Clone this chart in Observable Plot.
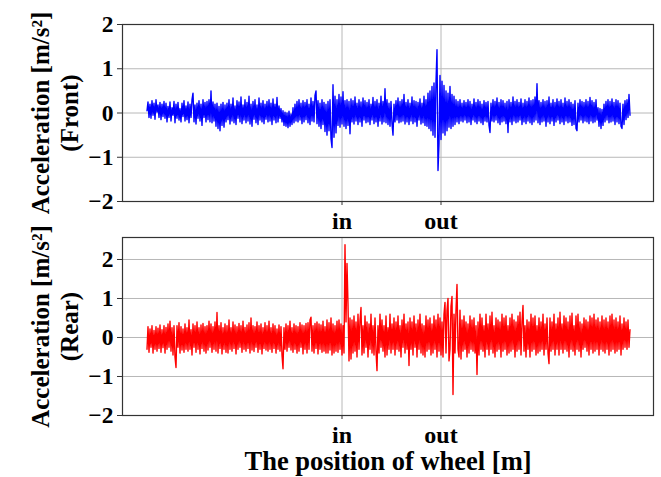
<!DOCTYPE html>
<html><head><meta charset="utf-8">
<script src="https://cdn.jsdelivr.net/npm/d3@7"></script>
<script src="https://cdn.jsdelivr.net/npm/@observablehq/plot@0.6"></script>
<style>
body{margin:0;background:#fff;}
#wrap{position:relative;width:661px;height:477px;overflow:hidden;}
#wrap svg{position:absolute;left:0;overflow:visible;font-family:"Liberation Serif","Times New Roman",serif;font-weight:bold;}
</style></head><body><div id="wrap"></div>
<script>
// Front (top) acceleration samples (one per pixel column)
const frontAcc = [
0.05,0.25,-0.1,0.2,-0.12,0.28,-0.05,0.22,-0.14,0.3,0.02,0.18,-0.1,0.24,-0.15,0.2,-0.08,0.26,-0.12,0.22,
-0.2,0.15,-0.1,0.25,-0.18,0.12,-0.05,0.26,-0.22,0.2,-0.12,0.24,-0.16,0.1,-0.2,0.22,-0.08,0.28,-0.18,0.16,
-0.15,0.25,-0.22,0.2,-0.1,0.3,0.45,-0.2,0.18,-0.25,0.22,-0.12,0.28,-0.18,0.2,-0.28,0.3,-0.1,0.24,-0.2,
0.26,-0.15,0.3,-0.2,0.5,-0.22,0.25,-0.18,0.2,-0.3,0.22,-0.35,0.15,-0.4,0.2,-0.28,0.24,-0.32,0.18,-0.2,
0.22,-0.15,0.3,-0.25,0.2,-0.18,0.34,-0.22,0.16,-0.26,0.28,-0.12,0.25,-0.2,0.36,-0.24,0.18,-0.16,0.3,-0.22,
0.24,-0.18,0.38,-0.25,0.2,-0.3,0.26,-0.14,0.3,-0.22,0.18,-0.26,0.34,-0.16,0.22,-0.2,0.28,-0.24,0.2,-0.14,
0.26,-0.2,0.3,-0.18,0.22,-0.26,0.32,-0.16,0.2,-0.22,0.35,-0.2,0.16,-0.12,0.1,-0.2,0.05,-0.28,0.02,-0.3,
0.0,-0.33,0.04,-0.3,-0.02,-0.26,0.12,-0.22,0.2,-0.18,0.26,-0.2,0.3,-0.16,0.22,-0.24,0.28,-0.2,0.24,-0.15,
0.3,-0.22,0.2,-0.26,0.34,-0.18,0.26,-0.2,0.4,0.5,-0.24,0.28,-0.3,0.22,-0.35,0.3,-0.26,0.24,-0.42,0.2,
-0.5,0.26,-0.4,0.3,-0.58,-0.78,0.64,-0.55,0.38,-0.45,0.3,-0.28,0.42,-0.32,0.36,-0.25,0.48,-0.3,0.28,-0.35,
0.3,-0.28,0.26,-0.47,0.32,-0.2,0.28,-0.25,0.36,-0.18,0.22,-0.26,0.3,-0.2,0.25,-0.3,0.34,-0.16,0.28,-0.22,
0.24,-0.2,0.3,-0.26,0.2,-0.16,0.35,-0.24,0.26,-0.2,0.3,-0.3,0.22,-0.18,0.38,-0.25,0.26,-0.2,0.55,-0.22,
0.3,-0.26,0.22,-0.3,0.26,-0.24,-0.5,0.2,-0.2,0.28,-0.16,0.34,-0.22,0.26,-0.2,0.3,-0.18,0.42,-0.25,0.24,
-0.2,0.3,-0.26,0.22,-0.18,0.36,-0.24,0.28,-0.2,0.26,-0.3,0.24,-0.16,0.32,-0.25,0.22,-0.22,0.38,-0.28,0.3,
-0.3,0.45,-0.35,0.5,-0.4,0.6,-0.5,0.68,-0.55,0.7,1.43,-1.3,-0.7,0.85,-0.6,0.72,-0.45,0.62,-0.5,0.5,
-0.4,0.45,-0.32,0.6,-0.35,0.42,-0.3,0.38,-0.26,0.3,-0.2,0.26,-0.24,0.3,-0.18,0.22,-0.2,0.28,-0.16,0.24,
-0.22,0.3,-0.2,0.26,-0.26,0.2,-0.16,0.32,-0.2,0.24,-0.24,0.3,-0.18,0.26,-0.22,0.2,-0.26,0.28,-0.18,0.24,
-0.2,0.26,-0.28,-0.44,0.22,-0.18,0.3,-0.2,0.26,-0.16,0.34,-0.22,0.24,-0.26,0.3,-0.2,0.28,-0.18,0.22,-0.24,
0.26,-0.44,0.3,-0.2,0.24,-0.26,0.36,-0.18,0.26,-0.22,0.3,-0.2,0.24,-0.16,0.32,-0.26,0.22,-0.2,0.3,-0.24,
0.26,-0.18,0.34,-0.22,0.28,-0.26,0.3,-0.2,0.36,-0.16,0.66,-0.22,0.28,-0.26,0.24,-0.2,0.3,-0.18,0.26,-0.3,
0.28,-0.2,0.36,-0.24,0.22,-0.18,0.3,-0.28,0.24,-0.2,0.32,-0.16,0.26,-0.24,0.3,-0.2,0.22,-0.26,0.34,-0.18,
0.26,-0.22,0.3,-0.2,0.24,-0.28,0.2,-0.26,0.28,-0.35,-0.4,0.22,-0.2,0.3,-0.16,0.26,-0.22,0.24,-0.18,0.3,
-0.2,0.26,-0.24,0.35,-0.18,0.28,-0.22,0.24,-0.2,0.3,-0.16,0.12,-0.3,0.1,-0.35,0.08,-0.28,0.2,-0.2,0.26,
-0.16,0.3,-0.22,0.26,-0.2,0.32,-0.18,0.24,-0.26,0.3,-0.2,0.28,-0.24,0.22,-0.3,-0.35,0.2,-0.26,0.28,-0.15,
0.3,-0.1,0.42,-0.05
];
// Rear (bottom) acceleration samples (one per pixel column)
const rearAcc = [
-0.3,0.28,-0.38,0.22,-0.25,0.3,-0.4,0.18,-0.3,0.28,-0.35,0.24,-0.28,0.32,-0.38,0.2,-0.26,0.3,-0.4,0.26,
-0.3,0.35,-0.25,0.42,-0.35,0.25,-0.45,0.3,-0.5,-0.77,0.3,-0.25,0.38,-0.4,0.28,-0.32,0.22,-0.38,0.35,-0.3,
0.25,-0.35,0.45,-0.3,0.2,-0.45,0.35,-0.25,0.3,-0.38,0.4,-0.3,0.25,-0.42,0.32,-0.28,0.36,-0.35,0.28,-0.4,
0.3,-0.32,0.42,-0.25,0.35,-0.38,0.28,-0.3,0.4,-0.35,0.64,-0.4,0.3,-0.28,0.38,-0.42,0.25,-0.3,0.35,-0.38,
0.3,-0.4,0.45,-0.3,0.25,-0.35,0.4,-0.28,0.32,-0.42,0.28,-0.3,0.36,-0.25,0.3,-0.38,0.42,-0.3,0.26,-0.35,
0.32,-0.28,0.38,-0.4,0.5,-0.32,0.3,-0.36,0.28,-0.25,0.4,-0.38,0.3,-0.3,0.35,-0.42,0.25,-0.28,0.38,-0.32,
0.3,-0.35,0.42,-0.3,0.25,-0.38,0.35,-0.28,0.3,-0.4,0.22,-0.3,0.32,-0.35,0.28,-0.45,-0.8,0.25,-0.3,0.35,
-0.35,0.3,-0.25,0.42,-0.32,0.25,-0.38,0.35,-0.3,0.3,-0.4,0.28,-0.35,0.38,-0.25,0.32,-0.42,0.3,-0.3,0.36,
-0.4,0.38,-0.3,0.45,0.52,-0.35,0.3,-0.4,0.36,-0.28,0.4,-0.42,0.35,-0.3,0.32,-0.38,0.42,-0.35,0.28,-0.4,
0.45,-0.4,0.38,-0.32,0.5,-0.45,0.35,-0.4,0.3,-0.35,0.42,-0.38,0.45,-0.3,0.35,-0.45,0.3,-0.4,2.38,0.4,
1.9,0.85,-0.6,0.5,-0.55,0.45,-0.4,0.55,-0.35,0.4,-0.5,0.6,-0.3,0.45,0.77,-0.45,0.3,-0.4,0.55,-0.25,
0.4,-0.5,0.35,-0.3,0.6,-0.4,0.3,-0.45,0.5,-0.35,-0.85,0.3,-0.4,0.6,-0.25,0.45,-0.35,0.3,-0.5,0.55,
-0.45,0.25,-0.3,0.6,-0.4,0.35,-0.3,0.5,-0.45,0.4,-0.3,0.55,-0.35,0.3,-0.5,0.45,-0.25,0.6,-0.4,0.35,
-0.3,0.4,-0.72,0.5,-0.3,0.4,-0.45,0.55,-0.25,0.35,-0.5,0.45,-0.3,0.6,-0.4,0.35,-0.45,0.3,-0.5,0.55,
-0.35,0.45,-0.3,0.5,-0.45,0.35,-0.4,0.55,-0.3,0.45,-0.5,0.6,-0.35,0.5,-0.45,0.4,-0.5,0.6,0.9,-0.4,
0.7,1.0,-0.6,-0.3,0.8,1.05,-1.46,0.6,-0.4,0.7,1.36,-0.3,-0.5,0.7,-0.55,0.45,-0.35,0.55,-0.3,0.4,
-0.5,0.35,-0.4,0.55,-0.3,0.45,-0.35,0.5,-0.4,0.3,-0.95,0.4,-0.45,0.6,-0.3,0.5,-0.35,0.3,-0.5,0.6,
-0.3,0.35,-0.45,0.55,-0.3,0.65,-0.4,0.3,-0.5,0.5,-0.35,0.45,-0.3,0.4,-0.5,0.6,-0.35,0.5,-0.3,0.55,
-0.45,0.3,-0.4,0.5,-0.35,0.6,-0.3,0.45,-0.5,0.4,-0.35,0.55,-0.3,0.65,-0.45,0.4,0.82,-0.35,0.3,-0.5,
0.45,-0.3,0.4,-0.5,0.6,-0.35,0.5,-0.3,0.55,-0.45,0.3,-0.4,0.5,-0.35,0.4,-0.3,0.6,-0.45,0.35,-0.3,
0.5,-0.4,-0.67,0.5,-0.35,0.4,-0.3,0.6,-0.45,0.35,-0.3,0.5,-0.45,0.65,-0.3,0.35,-0.4,0.55,-0.3,0.5,
-0.35,0.4,-0.5,0.55,-0.3,0.62,-0.35,0.3,-0.45,0.55,-0.3,0.6,-0.35,0.4,-0.5,0.35,-0.3,0.5,-0.25,0.45,
-0.35,0.4,-0.45,0.55,-0.3,0.5,-0.4,0.6,-0.35,0.45,-0.3,0.5,-0.45,0.4,-0.3,0.55,-0.35,0.45,-0.4,0.5,
-0.3,0.4,-0.45,0.55,-0.35,0.6,-0.3,0.45,-0.4,0.5,-0.35,0.4,-0.3,0.55,-0.45,0.35,-0.3,0.5,-0.25,0.4,
-0.3,0.45,-0.25,0.2
];
const xTickPos = [195, 294];
const xTickLabels = ["in", "out"];
const yTicks = [-2, -1, 0, 1, 2];
const yLabelMain = "Acceleration [m/s²]";
const yLabelFront = "(Front)";
const yLabelRear = "(Rear)";
const xTitle = "The position of wheel [m]";

const xDomain = [-24.5, 506.5];
const gridColor = "#b8b8b8";
const fontFamily = '"Liberation Serif","Times New Roman",serif';

function panel({data, color, height, marginTop, marginBottom, yDomain, sub, title}) {
  const marks = [
    Plot.gridY(yTicks, {stroke: gridColor, strokeOpacity: 1, strokeWidth: 1}),
    Plot.gridX(xTickPos, {stroke: gridColor, strokeOpacity: 1, strokeWidth: 1}),
    Plot.lineY(data, {x: (d, i) => i, y: d => d, stroke: color, strokeWidth: 1.4}),
    Plot.frame({stroke: "#333", strokeWidth: 1.2}),
    Plot.axisY(yTicks, {tickSize: 5, tickPadding: 4, fontSize: 23.5, fontWeight: "bold", stroke: "#333"}),
    Plot.axisX(xTickPos, {tickSize: 4, tickPadding: 6, fontSize: 24, fontWeight: "bold", stroke: "#333",
      tickFormat: d => xTickLabels[xTickPos.indexOf(d)]}),
    Plot.text([yLabelMain], {frameAnchor: "left", textAnchor: "middle", dx: -82, rotate: -90, fontSize: 25, fontWeight: "bold", fill: "black"}),
    Plot.text([sub], {frameAnchor: "left", textAnchor: "middle", dx: -53, rotate: -90, fontSize: 25, fontWeight: "bold", fill: "black"})
  ];
  if (title) marks.push(Plot.text([title], {frameAnchor: "bottom", dy: 54, fontSize: 26.5, fontWeight: "bold", fill: "black"}));
  return Plot.plot({
    width: 661, height, marginLeft: 122, marginRight: 8, marginTop, marginBottom,
    style: {fontFamily, overflow: "visible", background: "transparent"},
    x: {domain: xDomain},
    y: {domain: yDomain},
    marks
  });
}

const wrap = document.getElementById("wrap");
const rearPanel = panel({data: rearAcc, color: "#ff0000", height: 247, marginTop: 7, marginBottom: 62, yDomain: [-2, 2.564], sub: yLabelRear, title: xTitle});
rearPanel.style.top = "230px";
wrap.appendChild(rearPanel);
const frontPanel = panel({data: frontAcc, color: "#0000ff", height: 230, marginTop: 24, marginBottom: 29, yDomain: [-2, 2], sub: yLabelFront});
frontPanel.style.top = "0px";
wrap.appendChild(frontPanel);
</script></body></html>
